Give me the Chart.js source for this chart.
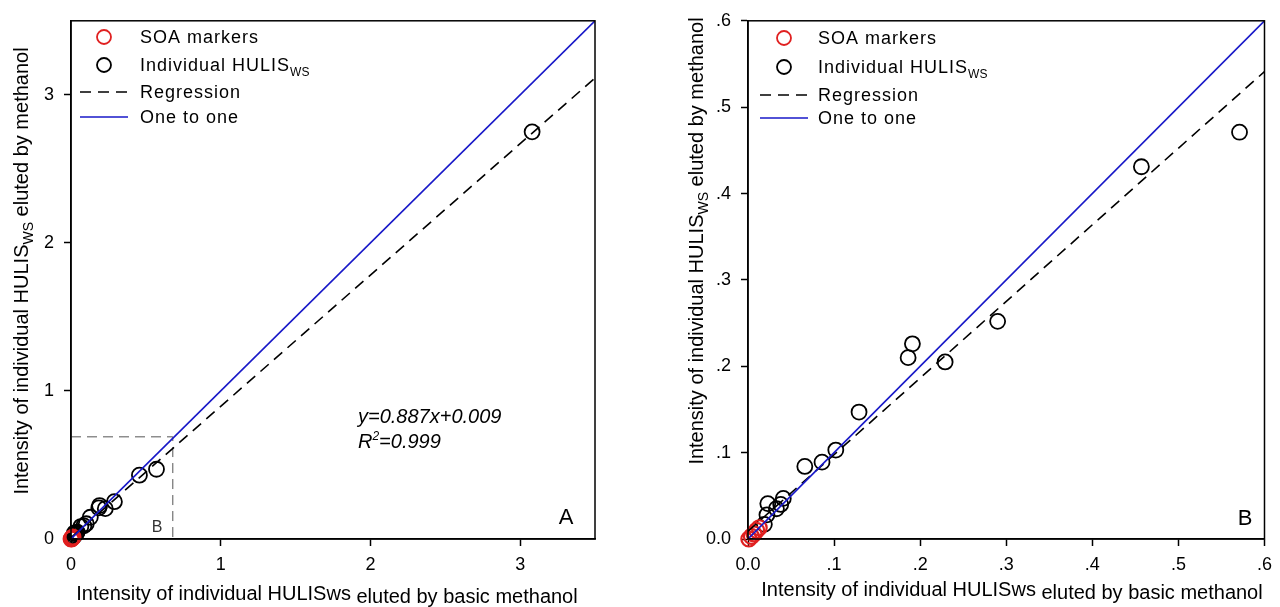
<!DOCTYPE html>
<html>
<head>
<meta charset="utf-8">
<script src="https://cdn.jsdelivr.net/npm/chart.js@4.4.0/dist/chart.umd.min.js"></script>
<style>
  body { margin: 0; background: #fff; }
  .panel { position: absolute; top: 0; width: 640px; height: 607px; }
</style>
</head>
<body>
<div class="panel" style="left:0"><canvas id="chartA" width="640" height="607"></canvas></div>
<div class="panel" style="left:640px"><canvas id="chartB" width="640" height="607"></canvas></div>
<script>
// values
const hulisX = [3.08, 0.571, 0.457, 0.290, 0.229, 0.191, 0.186, 0.129, 0.102, 0.086, 0.066, 0.041, 0.038, 0.033, 0.023, 0.022, 0.019];
const hulisY = [2.75, 0.471, 0.431, 0.252, 0.205, 0.226, 0.210, 0.147, 0.103, 0.089, 0.084, 0.047, 0.040, 0.035, 0.041, 0.028, 0.017];
const soaX = [0.001, 0.004, 0.007, 0.010, 0.013];
const soaY = [0.000, 0.003, 0.006, 0.010, 0.013];

// regression given on the plot: y=0.887x+0.009
const regSlope = 0.887;
const regIntercept = 0.009;

// zoom box drawn in panel A (region shown in panel B)
const boxX = [0, 0.68, 0.68];
const boxY = [0.69, 0.69, 0];

const axisMaxA = 3.5;
const ticksA = [0, 1, 2, 3];
const tickLabelsA = ['0', '1', '2', '3'];
const axisMaxB = 0.6;
const ticksB = [0, 0.1, 0.2, 0.3, 0.4, 0.5, 0.6];
const tickLabelsB = ['0.0', '.1', '.2', '.3', '.4', '.5', '.6'];

const FONT = '"Liberation Sans", Arial, sans-serif';
const BLUE = '#1818c8';
const RED = '#e02020';

function toPoints(xs, ys) {
  return xs.map((x, i) => ({ x: x, y: ys[i] }));
}

// draw text made of several pieces (for sub/superscripts), optionally rotated
function drawRich(ctx, segs, x, y, align, rotate) {
  ctx.save();
  ctx.translate(x, y);
  if (rotate) ctx.rotate(-Math.PI / 2);
  ctx.textAlign = 'left';
  ctx.textBaseline = 'alphabetic';
  let total = 0;
  segs.forEach(s => {
    ctx.font = s.font;
    ctx.letterSpacing = s.ls || '0px';
    total += ctx.measureText(s.t).width;
  });
  let cx = align === 'center' ? -total / 2 : 0;
  segs.forEach(s => {
    ctx.font = s.font;
    ctx.letterSpacing = s.ls || '0px';
    ctx.fillStyle = s.color || '#000';
    ctx.fillText(s.t, cx, s.dy || 0);
    cx += ctx.measureText(s.t).width;
  });
  ctx.restore();
}

const panelDecor = {
  id: 'panelDecor',
  afterDraw(chart, args, o) {
    const ctx = chart.ctx;
    const a = chart.chartArea;
    ctx.save();
    // frame
    ctx.strokeStyle = '#000';
    ctx.lineWidth = 1.5;
    ctx.strokeRect(a.left, a.top, a.right - a.left, a.bottom - a.top);

    // legend
    const lg = o.legend;
    const lf = '18px ' + FONT;
    ctx.lineWidth = 1.8;
    ctx.strokeStyle = RED;
    ctx.beginPath(); ctx.arc(lg.mx, lg.rows[0], 7, 0, Math.PI * 2); ctx.stroke();
    ctx.strokeStyle = '#000';
    ctx.beginPath(); ctx.arc(lg.mx, lg.rows[1], 7, 0, Math.PI * 2); ctx.stroke();
    ctx.lineWidth = 1.5;
    ctx.setLineDash([11, 7]);
    ctx.beginPath(); ctx.moveTo(lg.l0, lg.rows[2]); ctx.lineTo(lg.l1, lg.rows[2]); ctx.stroke();
    ctx.setLineDash([]);
    ctx.strokeStyle = BLUE;
    ctx.beginPath(); ctx.moveTo(lg.l0, lg.rows[3]); ctx.lineTo(lg.l1, lg.rows[3]); ctx.stroke();
    drawRich(ctx, [{ t: 'SOA markers', font: lf, ls: '1px' }], lg.tx, lg.rows[0] + 6);
    drawRich(ctx, [{ t: 'Individual HULIS', font: lf, ls: '1px' },
                   { t: 'WS', font: '12px ' + FONT, dy: 5 }], lg.tx, lg.rows[1] + 6);
    drawRich(ctx, [{ t: 'Regression', font: lf, ls: '1px' }], lg.tx, lg.rows[2] + 6);
    drawRich(ctx, [{ t: 'One to one', font: lf, ls: '1px' }], lg.tx, lg.rows[3] + 6);

    // axis titles
    const tf = '20px ' + FONT;
    drawRich(ctx, [{ t: 'Intensity of individual HULISws', font: tf },
                   { t: ' eluted by basic methanol', font: tf, dy: 3 }],
             o.xTitle[0], o.xTitle[1], 'center');
    drawRich(ctx, [{ t: 'Intensity of individual HULIS', font: tf },
                   { t: 'WS', font: '14px ' + FONT, dy: 5 },
                   { t: ' eluted by methanol', font: tf }],
             o.yTitle[0], o.yTitle[1], 'center', true);

    // panel letter
    drawRich(ctx, [{ t: o.letter, font: '22px ' + FONT }], o.letterPos[0], o.letterPos[1], 'center');

    if (o.equation) {
      const ef = 'italic 20px ' + FONT;
      drawRich(ctx, [{ t: 'y=0.887x+0.009', font: ef }], 358, 423);
      drawRich(ctx, [{ t: 'R', font: ef }, { t: '2', font: 'italic 12px ' + FONT, dy: -8 },
                     { t: '=0.999', font: ef }], 358, 448);
      drawRich(ctx, [{ t: 'B', font: '16px ' + FONT, color: '#333' }], 157, 532, 'center');
    }
    ctx.restore();
  }
};

function makeChart(id, max, tickVals, tickLabels, yWidth, padRight, decor, withBox) {
  const datasets = [
    {
      label: 'One to one',
      data: [{ x: 0, y: 0 }, { x: max, y: max }],
      showLine: true, borderColor: BLUE, borderWidth: 1.6,
      pointRadius: 0, order: 0
    },
    {
      label: 'Regression',
      data: [{ x: 0, y: regIntercept }, { x: max, y: regSlope * max + regIntercept }],
      showLine: true, borderColor: '#000', borderWidth: 1.6, borderDash: [11, 7],
      pointRadius: 0, order: 1
    },
    {
      label: 'SOA markers',
      data: toPoints(soaX, soaY),
      pointStyle: 'circle', pointRadius: 7.5, borderWidth: 2.2,
      borderColor: RED, backgroundColor: 'rgba(0,0,0,0)', clip: false, order: 3
    },
    {
      label: 'Individual HULISws',
      data: toPoints(hulisX, hulisY),
      pointStyle: 'circle', pointRadius: 7.5, borderWidth: 1.8,
      borderColor: '#000', backgroundColor: 'rgba(0,0,0,0)', clip: false, order: 4
    }
  ];
  if (withBox) {
    datasets.push({
      label: 'box',
      data: toPoints(boxX, boxY),
      showLine: true, borderColor: '#555', borderWidth: 1, borderDash: [10, 6],
      pointRadius: 0, order: 2
    });
  }

  const axis = (isX) => ({
    type: 'linear',
    min: 0,
    max: max,
    afterBuildTicks(scale) {
      scale.ticks = tickVals.map(v => ({ value: v }));
    },
    afterFit(scale) {
      if (isX) scale.height = 68; else scale.width = yWidth;
    },
    grid: { drawOnChartArea: false, drawTicks: true, tickLength: 7, color: '#000', tickWidth: 1.5 },
    border: { color: '#000', width: 1.5 },
    ticks: {
      color: '#000',
      padding: isX ? 8 : 10,
      font: { family: FONT, size: 18 },
      maxRotation: 0,
      autoSkip: false,
      callback: (v, i) => tickLabels[i]
    }
  });

  return new Chart(document.getElementById(id), {
    type: 'scatter',
    data: { datasets: datasets },
    options: {
      responsive: false,
      animation: false,
      layout: { padding: { top: 16, right: padRight, left: 0, bottom: 0 } },
      scales: { x: axis(true), y: axis(false) },
      plugins: {
        legend: { display: false },
        tooltip: { enabled: false },
        panelDecor: decor
      }
    },
    plugins: [panelDecor]
  });
}

makeChart('chartA', axisMaxA, ticksA, tickLabelsA, 71, 45, {
  legend: { mx: 104, l0: 80, l1: 128, tx: 140, rows: [37, 65, 92, 117] },
  xTitle: [327, 600],
  yTitle: [28, 271],
  letter: 'A',
  letterPos: [566, 524],
  equation: true
}, true);

makeChart('chartB', axisMaxB, ticksB, tickLabelsB, 108, 8, {
  legend: { mx: 144, l0: 120, l1: 168, tx: 178, rows: [38, 67, 95, 118] },
  xTitle: [372, 596],
  yTitle: [63, 241],
  letter: 'B',
  letterPos: [605, 525],
  equation: false
}, false);
</script>
</body>
</html>
